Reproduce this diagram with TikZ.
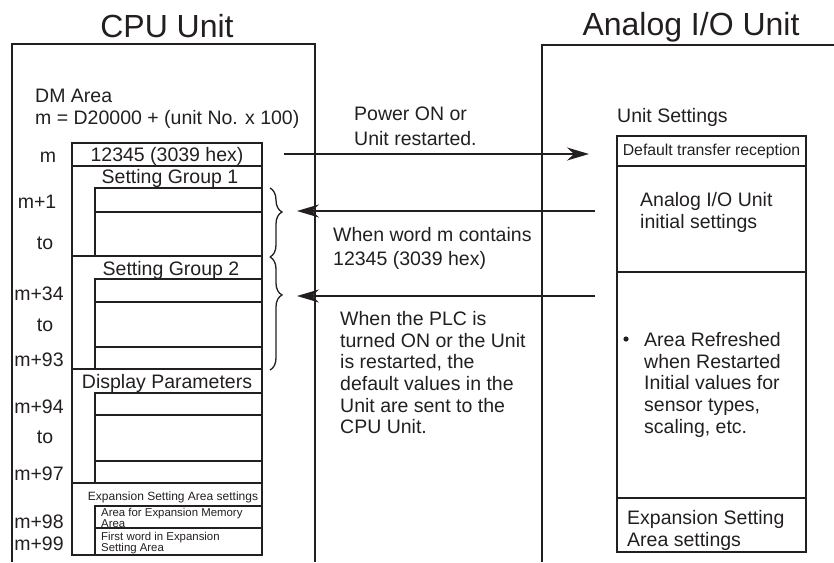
\documentclass[tikz,border=0pt]{standalone}
\usepackage{fontspec}
\setmainfont{Liberation Sans}
\usetikzlibrary{arrows.meta,decorations.pathreplacing}
\definecolor{ink}{RGB}{35,31,32}
\begin{document}
\begin{tikzpicture}[x=1pt,y=-1pt,color=ink,
  frameline/.style={line width=1.4pt},
  cellline/.style={line width=1.6pt},
  title/.style={font=\fontsize{32}{36}\selectfont,inner sep=0pt,anchor=base},
  lbl/.style={font=\fontsize{19.5}{22}\selectfont,inner sep=0pt,anchor=base},
  lblw/.style={font=\fontsize{19.5}{22}\selectfont,inner sep=0pt,anchor=base west},
  para/.style={font=\fontsize{19.5}{21.7}\selectfont,inner sep=0pt,anchor=north west,align=left},
  parawide/.style={font=\fontsize{19.5}{24.5}\selectfont,inner sep=0pt,anchor=north west,align=left},
  small/.style={font=\fontsize{11.4}{10}\selectfont,inner sep=0pt,anchor=base west},
  smallc/.style={font=\fontsize{12}{10}\selectfont,inner sep=0pt,anchor=base},
  flow/.style={line width=1.3pt,-{Stealth[length=22pt,width=13pt,inset=7pt]}},
  bracestyle/.style={line width=1.3pt,decorate,decoration={brace,amplitude=12pt,aspect=#1}}
]
\useasboundingbox (0,0) rectangle (834,562);

% frames
\draw[frameline] (12,562) -- (12,44) -- (315,44) -- (315,562);
\draw[frameline] (542,562) -- (542,45) -- (834,45);
\node[title] (cputitle) at (167,37) {CPU Unit};
\node[title] (aiotitle) at (691,35) {Analog I/O Unit};

% DM area header
\node[lblw] (dm) at (35,102.5) {DM Area};
\node[lblw] (mdef) at (35,124.5) {m = D20000 + (unit No. x 100)};

% CPU cells
\draw[cellline] (72,143) rectangle (262,166);
\node[lbl] (mword) at (167,161) {12345 (3039 hex)};

\draw[cellline] (72,166) rectangle (262,256);
\node[lbl] (sg1) at (170,183) {Setting Group 1};
\draw[cellline] (95,188) rectangle (262,212);
\draw[cellline] (95,212) rectangle (262,256);

\draw[cellline] (72,256) rectangle (262,369);
\node[lbl] (sg2) at (171,275) {Setting Group 2};
\draw[cellline] (95,279) rectangle (262,302);
\draw[cellline] (95,302) rectangle (262,347);
\draw[cellline] (95,347) rectangle (262,369);

\draw[cellline] (72,369) rectangle (262,483);
\node[lbl] (dp) at (167,388) {Display Parameters};
\draw[cellline] (95,393) rectangle (262,415);
\draw[cellline] (95,415) rectangle (262,461);
\draw[cellline] (95,461) rectangle (262,483);

\draw[cellline] (72,483) rectangle (262,555);
\node[smallc] (esa) at (173,500) {Expansion Setting Area settings};
\draw[cellline] (95,506) rectangle (262,528);
\draw[cellline] (95,528) rectangle (262,555);
\node[small] (afe1) at (101,516.3) {Area for Expansion Memory};
\node[small] (afe2) at (101,527) {Area};
\node[small] (fw1) at (101,540.3) {First word in Expansion};
\node[small] (fw2) at (101,551) {Setting Area};

% left labels
\node[lbl] (lm) at (48,162) {m};
\node[lbl] (lm1) at (37,208) {m+1};
\node[lbl] (lto1) at (45,249.5) {to};
\node[lbl] (lm34) at (39,300) {m+34};
\node[lbl] (lto2) at (45,331) {to};
\node[lbl] (lm93) at (39,366) {m+93};
\node[lbl] (lm94) at (39,413) {m+94};
\node[lbl] (lto3) at (45,443) {to};
\node[lbl] (lm97) at (39,480) {m+97};
\node[lbl] (lm98) at (39,528) {m+98};
\node[lbl] (lm99) at (39,550) {m+99};

% braces
\draw[bracestyle=0.348] (270,188) -- (270,257);
\draw[bracestyle=0.336] (270,257) -- (270,370);

% Analog I/O unit
\node[lblw] (us) at (617,122) {Unit Settings};
\draw[cellline] (617,136) rectangle (806,552);
\draw[cellline] (617,166) -- (806,166);
\draw[cellline] (617,272) -- (806,272);
\draw[cellline] (617,498) -- (806,498);
\node[font=\fontsize{15.8}{18}\selectfont,inner sep=0pt] (dtr) at (711.5,151) {Default transfer reception};
\node[para] (ais) at (640,192) {Analog I/O Unit\\initial settings};
\fill (626,339) circle (2.6pt);
\node[para] (arr) at (644,332) {Area Refreshed\\when Restarted\\Initial values for\\sensor types,\\scaling, etc.};
\node[para] (esas) at (627,510) {Expansion Setting\\Area settings};

% arrow texts
\node[parawide] (pon) at (354,107) {Power ON or\\Unit restarted.};
\node[parawide] (wwm) at (333,227) {When word m contains\\12345 (3039 hex)};
\node[para] (wplc) at (340,311) {When the PLC is\\turned ON or the Unit\\is restarted, the\\default values in the\\Unit are sent to the\\CPU Unit.};

% arrows
\coordinate (a1s) at (284,154);
\coordinate (a1e) at (589,154);
\coordinate (a2s) at (595,211);
\coordinate (a2e) at (297,211);
\coordinate (a3s) at (595,296);
\coordinate (a3e) at (297,296);
\draw[flow] (a1s) -- (a1e);
\draw[flow] (a2s) -- (a2e);
\draw[flow] (a3s) -- (a3e);
\end{tikzpicture}
\end{document}
